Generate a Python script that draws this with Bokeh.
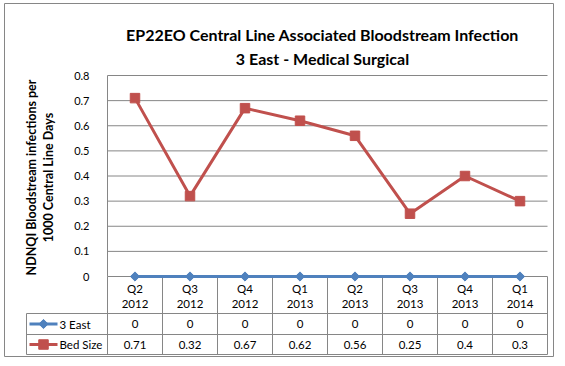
import numpy as np
from bokeh.plotting import figure
from bokeh.models import Range1d, LinearAxis, FixedTicker, ColumnDataSource
from bokeh.core.properties import value
from bokeh.embed import file_html
from bokeh.resources import INLINE

# ---------------- data ----------------
quarters = ["Q2", "Q3", "Q4", "Q1", "Q2", "Q3", "Q4", "Q1"]
years = ["2012", "2012", "2012", "2013", "2013", "2013", "2013", "2014"]
east3 = [0, 0, 0, 0, 0, 0, 0, 0]
bed_size = [0.71, 0.32, 0.67, 0.62, 0.56, 0.25, 0.4, 0.3]
series_names = ["3 East", "Bed Size"]
y_ticks = [0, 0.1, 0.2, 0.3, 0.4, 0.5, 0.6, 0.7, 0.8]
title_lines = ["EP22EO Central Line Associated Bloodstream Infection",
               "3 East - Medical Surgical"]
y_title_lines = ["NDNQI Bloodstream infections per", "1000 Central Line Days"]

# ---------------- layout (picture pixels) ----------------
W, H, ORG = 557, 358, 0
PLOT_L, PLOT_R = 107, 547
Y_TOP_PX, Y0_PX = 75, 276
n = len(quarters)
CAT_W = (PLOT_R - PLOT_L) / n
PX_PER_UNIT = (Y0_PX - Y_TOP_PX) / y_ticks[-1]


def dx(px):
    return (px - PLOT_L) / CAT_W


def dy(py):
    return (Y0_PX - py) / PX_PER_UNIT


BLUE = "#4F81BD"
RED = "#C0504D"
GRAY = "#868686"
FONT = "Lato"

p = figure(width=W, height=H,
           x_range=Range1d(dx(ORG), dx(ORG + W)),
           y_range=Range1d(dy(ORG + H), dy(ORG)),
           x_axis_type=None, y_axis_type=None,
           toolbar_location=None, output_backend="svg",
           min_border=0, outline_line_color=None,
           background_fill_color="white", border_fill_color="white")

# chart area border
p.quad(left=[dx(4)], right=[dx(553)], top=[dy(3)], bottom=[dy(356)],
       fill_color=None, line_color=GRAY, line_width=1)

# y axis at the left edge of the plot area
yax = LinearAxis(fixed_location=0, ticker=FixedTicker(ticks=y_ticks), bounds=(0, y_ticks[-1]))
yax.axis_line_color = GRAY
yax.major_tick_line_color = None
yax.minor_tick_line_color = None
yax.major_label_standoff = 12
yax.major_label_text_font = FONT
yax.major_label_text_font_size = "11px"
yax.major_label_text_color = "black"
p.add_layout(yax, "left")

# horizontal gridlines
p.segment(x0=[0] * len(y_ticks), x1=[n] * len(y_ticks), y0=y_ticks, y1=y_ticks,
          line_color=GRAY, line_width=1)

# data table grid
ROW_TOPS = [313, 334, 354]
LEG_L = 26
kx = list(range(n + 1))
p.segment(x0=kx, x1=kx, y0=[dy(ROW_TOPS[-1])] * len(kx), y1=[0] * len(kx),
          line_color=GRAY, line_width=1)
p.segment(x0=[dx(LEG_L)] * 3, x1=[n] * 3, y0=[dy(r) for r in ROW_TOPS],
          y1=[dy(r) for r in ROW_TOPS], line_color=GRAY, line_width=1)
p.segment(x0=[dx(LEG_L)], x1=[dx(LEG_L)], y0=[dy(ROW_TOPS[0])], y1=[dy(ROW_TOPS[-1])],
          line_color=GRAY, line_width=1)

# series
xc = [i + 0.5 for i in range(n)]
src = ColumnDataSource(dict(x=xc, east=east3, bed=bed_size,
                            q=quarters, yr=years,
                            east_t=[str(v) for v in east3],
                            bed_t=[str(v) for v in bed_size]))
p.line("x", "bed", source=src, line_color=RED, line_width=3)
p.scatter("x", "bed", source=src, marker="square", size=9.5, fill_color=RED, line_color=RED)
p.line("x", "east", source=src, line_color=BLUE, line_width=3)
p.scatter("x", "east", source=src, marker="square", angle=np.pi / 4, size=6.5,
          fill_color=BLUE, line_color=BLUE)

# table texts
txt = dict(text_font=value(FONT), text_font_size="11.5px", text_color="black",
           text_align="center", text_baseline="middle")
p.text(x="x", y=dy(288), text="q", source=src, **txt)
p.text(x="x", y=dy(303), text="yr", source=src, **txt)
row_mid = [(ROW_TOPS[0] + ROW_TOPS[1]) / 2, (ROW_TOPS[1] + ROW_TOPS[2]) / 2]
p.text(x="x", y=dy(row_mid[0]), text="east_t", source=src, **txt)
p.text(x="x", y=dy(row_mid[1]), text="bed_t", source=src, **txt)

# legend keys in table
p.text(x=[dx(59)] * 2, y=[dy(row_mid[0]), dy(row_mid[1])], text=series_names,
       text_font=value(FONT), text_font_size="11.5px", text_color="black",
       text_align="left", text_baseline="middle")
p.segment(x0=[dx(29)], x1=[dx(57)], y0=[dy(row_mid[0])], y1=[dy(row_mid[0])],
          line_color=BLUE, line_width=3)
p.scatter(x=[dx(43)], y=[dy(row_mid[0])], marker="square", angle=np.pi / 4, size=6.5,
          fill_color=BLUE, line_color=BLUE)
p.segment(x0=[dx(29)], x1=[dx(57)], y0=[dy(row_mid[1])], y1=[dy(row_mid[1])],
          line_color=RED, line_width=3)
p.scatter(x=[dx(43)], y=[dy(row_mid[1])], marker="square", size=9.5,
          fill_color=RED, line_color=RED)

# y-axis title (rotated, two lines)
p.text(x=[dx(31), dx(48)], y=[dy(177)] * 2, text=y_title_lines, angle=np.pi / 2,
       text_font=value(FONT), text_font_style="bold", text_font_size="12.5px",
       text_color="black", text_align="center", text_baseline="middle")

# chart title
p.text(x=[dx(322)] * 2, y=[dy(34), dy(58)], text=title_lines,
       text_font=value(FONT), text_font_style="bold", text_font_size="16px",
       text_color="black", text_align="center", text_baseline="middle")

open("out.html", "w").write(file_html(p, INLINE))
